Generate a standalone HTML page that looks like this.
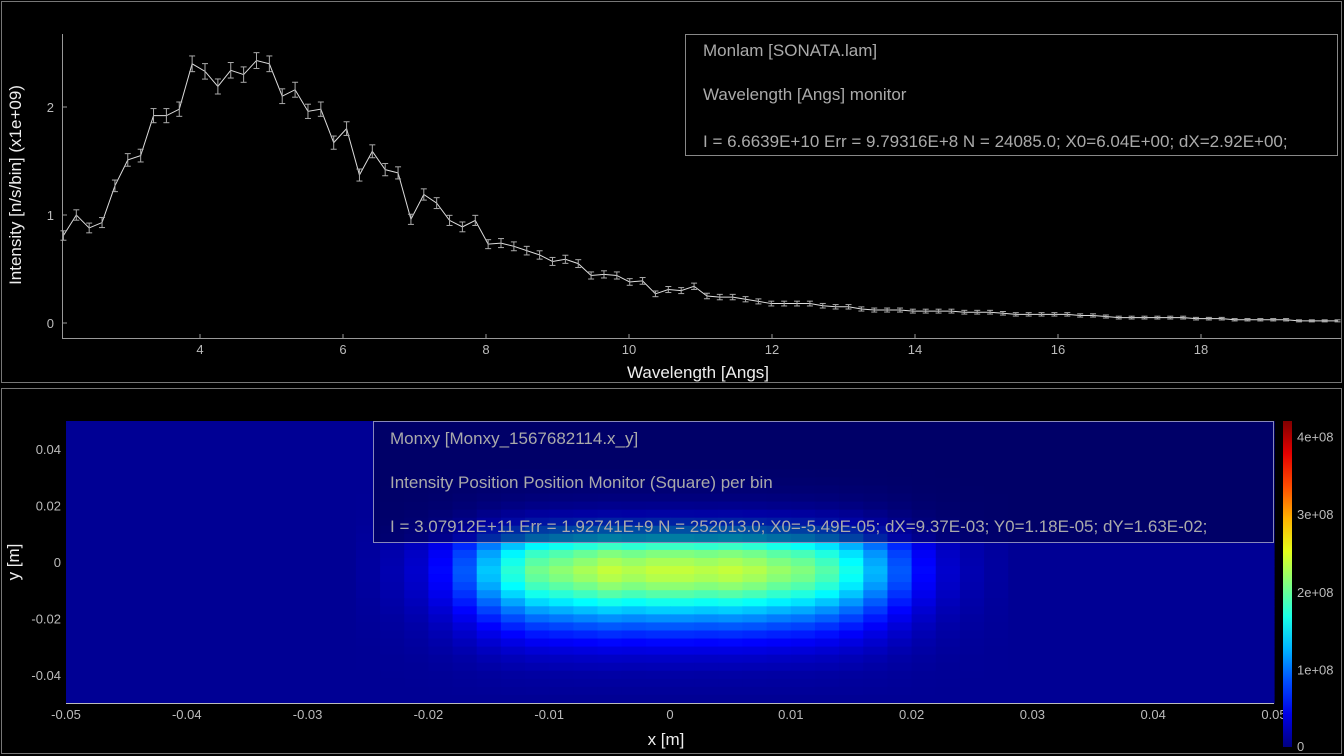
<!DOCTYPE html>
<html><head><meta charset="utf-8"><style>
html,body{margin:0;padding:0;background:#000;width:1344px;height:756px;overflow:hidden}
svg{display:block;font-family:"Liberation Sans","DejaVu Sans",sans-serif}
</style></head><body>
<svg id="s" width="1344" height="756" xmlns="http://www.w3.org/2000/svg">
<rect x="1.5" y="1.5" width="1340" height="381" fill="none" stroke="#777"/>
<rect x="1.5" y="388.5" width="1340" height="365" fill="none" stroke="#777"/>
<g id="topg"></g>
<g id="botg"></g>
</svg>
<script>
const waveValues=[0.81,1.0,0.88,0.93,1.27,1.51,1.55,1.92,1.92,1.98,2.40,2.33,2.19,2.34,2.30,2.43,2.40,2.10,2.16,1.96,1.98,1.67,1.80,1.37,1.59,1.42,1.39,0.96,1.19,1.11,0.95,0.89,0.95,
0.73,0.74,0.71,0.67,0.63,0.57,0.59,0.55,0.44,0.45,0.44,0.38,0.39,0.27,0.31,0.30,0.34,0.25,0.24,0.24,0.22,0.20,0.18,0.18,0.18,0.18,0.16,0.15,0.15,0.13,0.12,0.12,0.12,0.11,0.11,
0.11,0.11,0.10,0.10,0.10,0.09,0.08,0.08,0.08,0.08,0.08,0.07,0.07,0.06,0.05,0.05,0.05,0.05,0.05,0.05,0.04,0.04,0.04,0.03,0.03,0.03,0.03,0.03,0.02,0.02,0.02,0.02];
const waveStart=2.09, waveStep=0.18;
const xTicks=[4,6,8,10,12,14,16,18];
const yTicks=[0,1,2];
const xProfile=[0,0,0,0,0,0,0,0,0,0,0,0,0.02,0.05,0.1,0.2,0.35,0.55,0.72,0.85,0.9,0.95,1,0.97,1,1,0.98,1,0.97,0.92,0.88,0.8,0.68,0.52,0.35,0.2,0.1,0.05,0.02,0,0,0,0,0,0,0,0,0,0,0];
const yProfile=[0,0,0,0,0,0,0.01,0.02,0.04,0.07,0.12,0.2,0.3,0.45,0.6,0.75,0.88,0.95,1,0.97,0.9,0.8,0.68,0.56,0.45,0.35,0.27,0.2,0.14,0.09,0.06,0.03,0.02,0.01,0];
const heatPeak=2.3e8;
const hxTicks=[-0.05,-0.04,-0.03,-0.02,-0.01,0,0.01,0.02,0.03,0.04,0.05];
const hxLabels=["-0.05","-0.04","-0.03","-0.02","-0.01","0","0.01","0.02","0.03","0.04","0.05"];
const hyTicks=[0.04,0.02,0,-0.02,-0.04];
const hyLabels=["0.04","0.02","0","-0.02","-0.04"];
const cbTicks=[0,1e8,2e8,3e8,4e8];
const cbLabels=["0","1e+08","2e+08","3e+08","4e+08"];

const NS="http://www.w3.org/2000/svg";
function mk(parent,tag,attrs,text){const el=document.createElementNS(NS,tag);for(const k in attrs)el.setAttribute(k,attrs[k]);if(text!==undefined)el.textContent=text;parent.appendChild(el);return el;}
const topG=document.getElementById('topg'), botG=document.getElementById('botg');

const X=v=>200+(v-4)*71.5, Y=v=>323-v*108;
let e;
e=mk(topG,'line',{x1:62,y1:338.5,x2:1341,y2:338.5,stroke:'#999'});


e=mk(topG,'line',{x1:62.5,y1:34,x2:62.5,y2:339,stroke:'#999'});


xTicks.forEach(t=>{mk(topG,'line',{x1:X(t),y1:334,x2:X(t),y2:339,stroke:'#999'});
 const l=mk(topG,'text',{x:X(t),y:354,fill:'#bbb','font-size':13,'text-anchor':'middle'},String(t));
 
 });
yTicks.forEach(t=>{mk(topG,'line',{x1:62,y1:Y(t),x2:67,y2:Y(t),stroke:'#999'});
 const l=mk(topG,'text',{x:54,y:Y(t)+5,fill:'#bbb','font-size':13,'text-anchor':'end'},String(t));
 
 });
e=mk(topG,'text',{x:698,y:378,fill:'#eee','font-size':17,'text-anchor':'middle'},'Wavelength [Angs]');


e=mk(topG,'text',{x:0,y:0,fill:'#eee','font-size':17,'text-anchor':'middle',transform:'translate(21,185) rotate(-90)'},'Intensity [n/s/bin] (x1e+09)');


let pts=waveValues.map((v,i)=>[X(waveStart+i*waveStep),Y(v)]).filter(p=>p[0]<=1341);
e=mk(topG,'polyline',{points:pts.map(p=>p.join(',')).join(' '),fill:'none',stroke:'#ddd','stroke-width':1});


waveValues.forEach((v,i)=>{const x=X(waveStart+i*waveStep);if(x>1341)return;const err=0.045*Math.sqrt(v)+0.003;
 const g=mk(topG,'g',{stroke:'#aaa','stroke-width':1});
 
 
 mk(g,'line',{x1:x,y1:Y(v-err),x2:x,y2:Y(v+err)});
 mk(g,'line',{x1:x-3,y1:Y(v-err),x2:x+3,y2:Y(v-err)});
 mk(g,'line',{x1:x-3,y1:Y(v+err),x2:x+3,y2:Y(v+err)});});
e=mk(topG,'rect',{x:685.5,y:34.5,width:652,height:121,fill:'#000',stroke:'#888'});


[['Monlam [SONATA.lam]',56],['Wavelength [Angs] monitor',100],['I = 6.6639E+10 Err = 9.79316E+8 N = 24085.0; X0=6.04E+00; dX=2.92E+00;',147]].forEach(([t,y])=>{
 const l=mk(topG,'text',{x:703,y:y,fill:'#aaa','font-size':17},t);
 
 });

function jet(v){v=Math.max(0,Math.min(1,v));const c=x=>Math.round(255*Math.max(0,Math.min(1,x)));
 return `rgb(${c(1.5-Math.abs(4*v-3))},${c(1.5-Math.abs(4*v-2))},${c(1.5-Math.abs(4*v-1))})`;}
const HX=v=>670+v*12080, HY=v=>562-v*2820;
const cbMax=4.2e8;
const cw=(HX(0.05)-HX(-0.05))/xProfile.length, ch=(HY(-0.05)-HY(0.05))/yProfile.length;
const hg=mk(botG,'g',{});


yProfile.forEach((yv,j)=>{xProfile.forEach((xv,i)=>{
 const c=mk(hg,'rect',{x:HX(-0.05)+i*cw,y:HY(0.05)+j*ch,width:cw+0.6,height:ch+0.6,fill:jet(0.02+heatPeak*xv*yv/cbMax)});
 
 });});
e=mk(botG,'line',{x1:66,y1:703.5,x2:1274,y2:703.5,stroke:'#bbb'});


hxTicks.forEach((t,i)=>{const l=mk(botG,'text',{x:HX(t),y:719,fill:'#bbb','font-size':13,'text-anchor':'middle'},hxLabels[i]);
 
 });
hyTicks.forEach((t,i)=>{const l=mk(botG,'text',{x:61,y:HY(t)+5,fill:'#bbb','font-size':13,'text-anchor':'end'},hyLabels[i]);
 
 });
e=mk(botG,'text',{x:666,y:745,fill:'#eee','font-size':17,'text-anchor':'middle'},'x [m]');


e=mk(botG,'text',{x:0,y:0,fill:'#eee','font-size':17,'text-anchor':'middle',transform:'translate(19,562) rotate(-90)'},'y [m]');


const defs=mk(botG,'defs',{});const lg=mk(defs,'linearGradient',{id:'jetg',x1:0,y1:1,x2:0,y2:0});
for(let k=0;k<=10;k++)mk(lg,'stop',{offset:k/10,'stop-color':jet(k/10)});
const CY=v=>747-v/cbMax*326;
e=mk(botG,'rect',{x:1283,y:421,width:9,height:326,fill:'url(#jetg)'});


cbTicks.forEach((t,i)=>{const l=mk(botG,'text',{x:1297,y:CY(t)+(i===0?4:5),fill:'#bbb','font-size':13},cbLabels[i]);
 
 });
e=mk(botG,'rect',{x:373.5,y:421.5,width:900,height:121,fill:'rgba(0,0,50,0.45)',stroke:'#8888bb'});


[['Monxy [Monxy_1567682114.x_y]',444],['Intensity Position Position Monitor (Square) per bin',488],['I = 3.07912E+11 Err = 1.92741E+9 N = 252013.0; X0=-5.49E-05; dX=9.37E-03; Y0=1.18E-05; dY=1.63E-02;',532]].forEach(([t,y])=>{
 const l=mk(botG,'text',{x:390,y:y,fill:'#aaa','font-size':17},t);
 
 });
</script>
</body></html>
